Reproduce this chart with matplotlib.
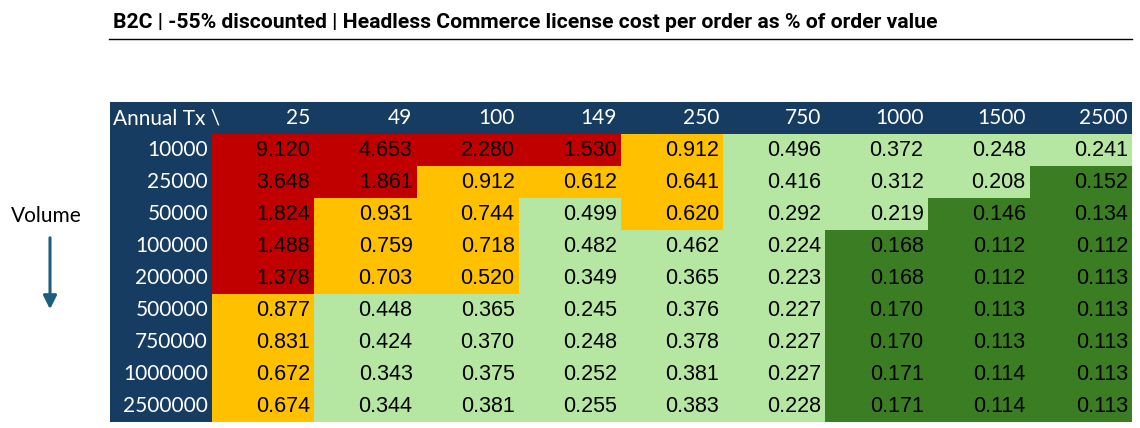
import matplotlib
matplotlib.use("Agg")
import matplotlib.pyplot as plt
from matplotlib.colors import ListedColormap, BoundaryNorm
from matplotlib.patches import Rectangle
import numpy as np

title = "B2C | -55% discounted | Headless Commerce license cost per order as % of order value"
corner_label = "Annual Tx \\"
prices = ["25", "49", "100", "149", "250", "750", "1000", "1500", "2500"]
volumes = ["10000", "25000", "50000", "100000", "200000", "500000", "750000", "1000000", "2500000"]

row_10000 = [9.120, 4.653, 2.280, 1.530, 0.912, 0.496, 0.372, 0.248, 0.241]
row_25000 = [3.648, 1.861, 0.912, 0.612, 0.641, 0.416, 0.312, 0.208, 0.152]
row_50000 = [1.824, 0.931, 0.744, 0.499, 0.620, 0.292, 0.219, 0.146, 0.134]
row_100000 = [1.488, 0.759, 0.718, 0.482, 0.462, 0.224, 0.168, 0.112, 0.112]
row_200000 = [1.378, 0.703, 0.520, 0.349, 0.365, 0.223, 0.168, 0.112, 0.113]
row_500000 = [0.877, 0.448, 0.365, 0.245, 0.376, 0.227, 0.170, 0.113, 0.113]
row_750000 = [0.831, 0.424, 0.370, 0.248, 0.378, 0.227, 0.170, 0.113, 0.113]
row_1000000 = [0.672, 0.343, 0.375, 0.252, 0.381, 0.227, 0.171, 0.114, 0.113]
row_2500000 = [0.674, 0.344, 0.381, 0.255, 0.383, 0.228, 0.171, 0.114, 0.113]

values = np.array([row_10000, row_25000, row_50000, row_100000, row_200000,
                   row_500000, row_750000, row_1000000, row_2500000])

thresholds = [0, 0.2, 0.5, 1.0, 100]
band_colors = ["#3A7D22", "#B5E6A2", "#FFC000", "#C00000"]

NAVY = "#173C61"
W, H = 1140, 428
fig = plt.figure(figsize=(W / 100, H / 100), dpi=100)

L, R, T, B = 110, 1132, 102, 422
ax = fig.add_axes([L / W, 1 - B / H, (R - L) / W, (B - T) / H])
nc, nr = len(prices), len(volumes)
ax.set_xlim(-1, nc)
ax.set_ylim(nr, -1)
ax.axis("off")

ax.add_patch(Rectangle((-1, -1), nc + 1, 1, color=NAVY, lw=0))
ax.add_patch(Rectangle((-1, -1), 1, nr + 1, color=NAVY, lw=0))

cmap = ListedColormap(band_colors)
norm = BoundaryNorm(thresholds, cmap.N)
ax.pcolormesh(np.arange(nc + 1), np.arange(nr + 1), values, cmap=cmap, norm=norm,
              shading="flat", edgecolors="none", antialiased=False)

pad = 0.04
num_font = dict(family=["Liberation Sans", "DejaVu Sans"], fontsize=15.5)
lab_font = dict(family=["Lato", "DejaVu Sans"], fontsize=15)

for j, p in enumerate(prices):
    ax.text(j + 1 - pad, -0.5, p, ha="right", va="center", color="white", **lab_font)
for i, v in enumerate(volumes):
    ax.text(-pad, i + 0.5, v, ha="right", va="center", color="white", **lab_font)
corner = ax.text(-0.97, -0.5, corner_label, ha="left", va="center", color="white", **lab_font)
corner.set_clip_path(Rectangle((-1, -1), 1, 1, transform=ax.transData))

for i in range(nr):
    for j in range(nc):
        ax.text(j + 1 - pad, i + 0.5 + 0.03, f"{values[i, j]:.3f}", ha="right", va="center",
                color="black", **num_font)

ov = fig.add_axes([0, 0, 1, 1], zorder=-1)
ov.set_xlim(0, W)
ov.set_ylim(H, 0)
ov.axis("off")
ov.text(113, 22, title, ha="left", va="center", fontsize=15.2, fontweight="bold",
        family=["Roboto", "DejaVu Sans"])
ov.plot([109, 1132], [38.5, 38.5], color="black", lw=1.0)
ov.text(11, 216, "Volume", ha="left", va="center", fontsize=15, family=["Lato", "DejaVu Sans"])
ov.annotate("", xy=(50, 312), xytext=(50, 235),
            arrowprops=dict(arrowstyle="-|>,head_width=0.4,head_length=0.8", color="#1D5E80", lw=2.2))

fig.savefig("out.png", dpi=100)
